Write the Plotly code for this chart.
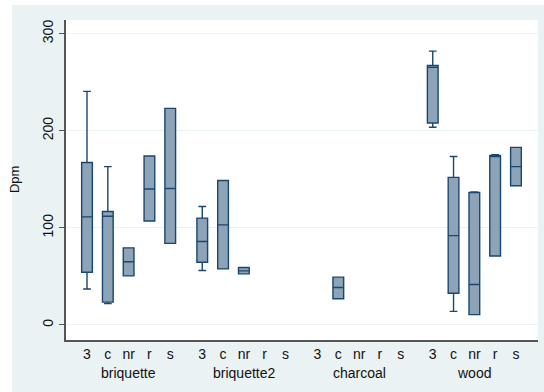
import plotly.graph_objects as go

# Box-plot summaries of Dpm by fuel (outer group) and sample type (inner category)
fuels = ["briquette", "briquette2", "charcoal", "wood"]
types = ["3", "c", "nr", "r", "s"]

lower_adj = {
    "briquette":  [37.0, 22.0, 50.5, 107.0, 84.0],
    "briquette2": [56.0, 57.7, 52.6, None, None],
    "charcoal":   [None, 27.0, None, None, None],
    "wood":       [203.5, 14.0, 10.6, 71.0, 143.3],
}
q1 = {
    "briquette":  [54.3, 23.5, 50.5, 107.0, 84.0],
    "briquette2": [64.6, 57.7, 52.6, None, None],
    "charcoal":   [None, 27.0, None, None, None],
    "wood":       [208.0, 32.6, 10.6, 71.0, 143.3],
}
median = {
    "briquette":  [111.3, 112.0, 65.0, 140.0, 140.5],
    "briquette2": [86.0, 103.0, 55.7, None, None],
    "charcoal":   [None, 38.5, None, None, None],
    "wood":       [265.3, 92.0, 41.6, 173.5, 163.0],
}
q3 = {
    "briquette":  [167.3, 116.8, 79.4, 174.0, 223.0],
    "briquette2": [110.0, 148.8, 59.1, None, None],
    "charcoal":   [None, 49.2, None, None, None],
    "wood":       [267.3, 152.0, 136.4, 174.5, 182.8],
}
upper_adj = {
    "briquette":  [240.5, 163.0, 79.4, 174.0, 223.0],
    "briquette2": [122.0, 148.8, 59.1, None, None],
    "charcoal":   [None, 49.2, None, None, None],
    "wood":       [282.0, 173.5, 137.0, 175.3, 182.8],
}

y_ticks = [0, 100, 200, 300]

GROUP_STEP = len(types) + 0.54   # extra space between fuel groups

xs, lo, a, m, b, hi = [], [], [], [], [], []
tick_pos, tick_txt, group_centres = [], [], []
for g, fuel in enumerate(fuels):
    base = g * GROUP_STEP
    group_centres.append(base + (len(types) - 1) / 2)
    for t, typ in enumerate(types):
        pos = base + t
        tick_pos.append(pos)
        tick_txt.append(typ)
        if median[fuel][t] is None:
            continue
        xs.append(pos)
        lo.append(lower_adj[fuel][t])
        a.append(q1[fuel][t])
        m.append(median[fuel][t])
        b.append(q3[fuel][t])
        hi.append(upper_adj[fuel][t])

navy = "#1a476f"
fig = go.Figure(go.Box(
    x=xs, q1=a, median=m, q3=b, lowerfence=lo, upperfence=hi,
    width=0.515, whiskerwidth=0.72,
    fillcolor="#8ca3b8", line=dict(color=navy, width=1.4),
    boxpoints=False, hoverinfo="skip", showlegend=False,
))

font = dict(family="Liberation Sans, Arial, sans-serif", size=14, color="#111")

# white strips along the top and left edges; the rest of the page is the
# light graph-region colour
shapes = [
    dict(type="rect", xref="paper", yref="paper", x0=-0.2, x1=1.1,
         y0=1.047, y1=1.2, fillcolor="white", line_width=0, layer="above"),
    dict(type="rect", xref="paper", yref="paper", x0=-0.2, x1=-0.1144,
         y0=-0.3, y1=1.2, fillcolor="white", line_width=0, layer="above"),
]

annotations = [
    dict(text=fuel, x=c, xref="x", y=-0.103, yref="paper",
         showarrow=False, font=font, xanchor="center", yanchor="middle")
    for fuel, c in zip(fuels, group_centres)
]
annotations.append(dict(text="Dpm", textangle=-90, x=-0.11, xref="paper",
                        y=0.5, yref="paper", showarrow=False,
                        font=dict(font, size=13),
                        xanchor="center", yanchor="middle"))

fig.update_layout(
    width=544, height=392,
    margin=dict(l=66, r=6, t=20, b=52),
    paper_bgcolor="#eaf2f3", plot_bgcolor="white",
    font=font, shapes=shapes, annotations=annotations,
    xaxis=dict(range=[-1.01, 3 * GROUP_STEP + 4 + 1.06], tickvals=tick_pos,
               ticktext=tick_txt, ticks="", showgrid=False, zeroline=False,
               showline=True, linecolor="#555", linewidth=2, tickfont=font),
    yaxis=dict(range=[-15.5, 314], tickvals=y_ticks, ticks="outside",
               ticklen=5, tickcolor="#555", tickangle=-90, showgrid=True,
               gridcolor="#eaf2f3", gridwidth=1, zeroline=False,
               showline=True, linecolor="#555", linewidth=2, tickfont=font),
)

fig.write_html("out.html")
